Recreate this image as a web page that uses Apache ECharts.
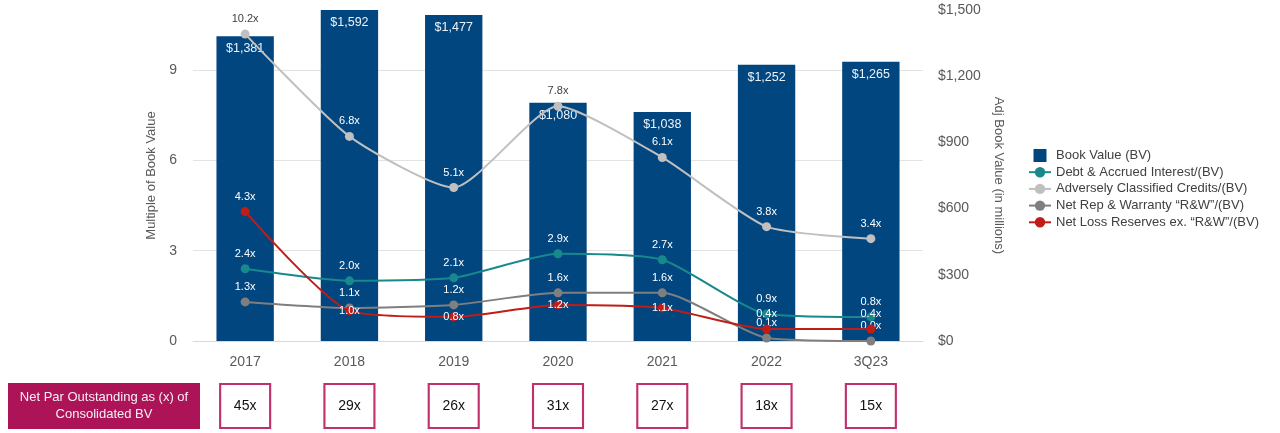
<!DOCTYPE html>
<html>
<head>
<meta charset="utf-8">
<script src="https://cdn.jsdelivr.net/npm/echarts@6/dist/echarts.min.js"></script>
<style>
html,body{margin:0;padding:0;background:#fff;}
#chart{width:1280px;height:433px;}
</style>
</head>
<body>
<div id="chart"></div>
<script>
const categories = ['2017', '2018', '2019', '2020', '2021', '2022', '3Q23'];
const bookValue = [1381, 1592, 1477, 1080, 1038, 1252, 1265];
const debtAccrued = [2.4, 2.0, 2.1, 2.9, 2.7, 0.9, 0.8];
const adverselyClassified = [10.2, 6.8, 5.1, 7.8, 6.1, 3.8, 3.4];
const netRepWarranty = [1.3, 1.1, 1.2, 1.6, 1.6, 0.1, 0.0];
const netLossReserves = [4.3, 1.0, 0.8, 1.2, 1.1, 0.4, 0.4];
const netParMultiples = [45, 29, 26, 31, 27, 18, 15];
const leftAxisTicks = [0, 3, 6, 9];
const rightAxisTicks = [0, 300, 600, 900, 1200, 1500];

const FONT = '"Liberation Sans", Arial, sans-serif';
const LEFT_MAX = 11;
const RIGHT_MAX = 1500;
const GRID_TOP = 10, GRID_BOTTOM = 92, H = 433;
const plotH = H - GRID_TOP - GRID_BOTTOM;

const names = {
  bv: 'Book Value (BV)',
  debt: 'Debt & Accrued Interest/(BV)',
  adv: 'Adversely Classified Credits/(BV)',
  rep: 'Net Rep & Warranty \u201CR&W\u201D/(BV)',
  loss: 'Net Loss Reserves ex. \u201CR&W\u201D/(BV)'
};

function barTopPx(i) { return Math.min(bookValue[i], RIGHT_MAX) / RIGHT_MAX * plotH; }
function lineData(arr, positions) {
  return arr.map((v, i) => {
    const pos = positions ? positions[i] : 'top';
    const labelCenter = v / LEFT_MAX * plotH + (pos === 'top' ? 15 : 0);
    const outside = labelCenter > barTopPx(i);
    return { value: v, label: { position: pos, color: outside ? '#404040' : '#ffffff' } };
  });
}

function lineSeries(name, arr, color, positions, z) {
  return {
    name: name, type: 'line', yAxisIndex: 0, data: lineData(arr, positions),
    smooth: 0.2, symbol: 'circle', symbolSize: 9, z: z,
    lineStyle: { color: color, width: 2 },
    itemStyle: { color: color },
    label: { show: true, fontSize: 11, fontFamily: FONT, distance: 5,
      formatter: p => p.value.toFixed(1) + 'x' }
  };
}

const chart = echarts.init(document.getElementById('chart'), null, { renderer: 'canvas' });
const option = {
  animation: false,
  backgroundColor: '#ffffff',
  textStyle: { fontFamily: FONT },
  legend: {
    orient: 'vertical', left: 1023, top: 144,
    itemWidth: 22, itemHeight: 13, itemGap: 3.7,
    textStyle: { fontSize: 13, color: '#404040', fontFamily: FONT },
    data: [
      { name: names.bv, icon: 'path://M0,0H14V14H0Z' },
      names.debt, names.adv, names.rep, names.loss
    ]
  },
  grid: [
    { left: 193, right: 357, top: GRID_TOP, bottom: GRID_BOTTOM },
    { left: 193, right: 357, top: 383, height: 46 }
  ],
  xAxis: [
    { type: 'category', gridIndex: 0, data: categories,
      axisLine: { show: true, lineStyle: { color: '#d9d9d9' } },
      axisTick: { show: false },
      axisLabel: { color: '#595959', fontSize: 14, margin: 14, fontFamily: FONT } },
    { type: 'category', gridIndex: 1, data: categories, show: false }
  ],
  yAxis: [
    { type: 'value', gridIndex: 0, min: 0, max: LEFT_MAX, interval: 3,
      name: 'Multiple of Book Value', nameLocation: 'middle', nameGap: 32,
      nameTextStyle: { color: '#595959', fontSize: 13, fontFamily: FONT },
      axisLine: { show: false }, axisTick: { show: false },
      axisLabel: { color: '#595959', fontSize: 14, margin: 16, showMaxLabel: false,
        formatter: v => leftAxisTicks.includes(v) ? String(v) : '' },
      splitLine: { show: true, showMaxLine: false, lineStyle: { color: '#e3e3e3', width: 1 } } },
    { type: 'value', gridIndex: 0, min: 0, max: RIGHT_MAX, interval: 300, position: 'right',
      name: 'Adj Book Value (in millions)', nameLocation: 'middle', nameGap: 68, nameRotate: -90,
      nameTextStyle: { color: '#595959', fontSize: 13, fontFamily: FONT },
      axisLine: { show: false }, axisTick: { show: false },
      axisLabel: { color: '#595959', fontSize: 14, margin: 15,
        formatter: v => rightAxisTicks.includes(v) ? '$' + v.toLocaleString('en-US') : '' },
      splitLine: { show: false } },
    { type: 'category', gridIndex: 1, data: ['Net Par'], show: false }
  ],
  series: [
    { name: names.bv, type: 'bar', yAxisIndex: 1, data: bookValue, barWidth: '55%',
      clip: true, z: 1,
      itemStyle: { color: '#02467f' },
      label: { show: true, position: 'insideTop', distance: 6, color: '#eef2f7', fontSize: 12.5, fontFamily: FONT,
        formatter: p => '$' + p.value.toLocaleString('en-US') } },
    lineSeries(names.debt, debtAccrued, '#17898c', null, 4),
    lineSeries(names.adv, adverselyClassified, '#c0c0c0', null, 3),
    lineSeries(names.rep, netRepWarranty, '#7f7f7f', null, 5),
    lineSeries(names.loss, netLossReserves, '#c01c18', ['top', 'inside', 'inside', 'inside', 'inside', 'top', 'top'], 6),
    { name: 'Net Par', type: 'scatter', xAxisIndex: 1, yAxisIndex: 2,
      data: categories.map((c, i) => [c, 'Net Par', netParMultiples[i]]),
      symbol: 'rect', symbolSize: [50, 44],
      itemStyle: { color: '#ffffff', borderColor: '#c2306b', borderWidth: 2, opacity: 1 },
      label: { show: true, position: 'inside', color: '#111', fontSize: 14, fontFamily: FONT,
        formatter: p => p.value[2] + 'x' },
      emphasis: { disabled: true } }
  ],
  graphic: [
    { type: 'rect', left: 8, top: 383, shape: { width: 192, height: 46 },
      style: { fill: '#ad1457' },
      textContent: { style: { text: 'Net Par Outstanding as (x) of\nConsolidated BV', fill: '#f6f0f3',
        font: '13px ' + FONT, align: 'center', lineHeight: 17 } },
      textConfig: { position: 'inside' } }
  ]
};
chart.setOption(option);
</script>
</body>
</html>
